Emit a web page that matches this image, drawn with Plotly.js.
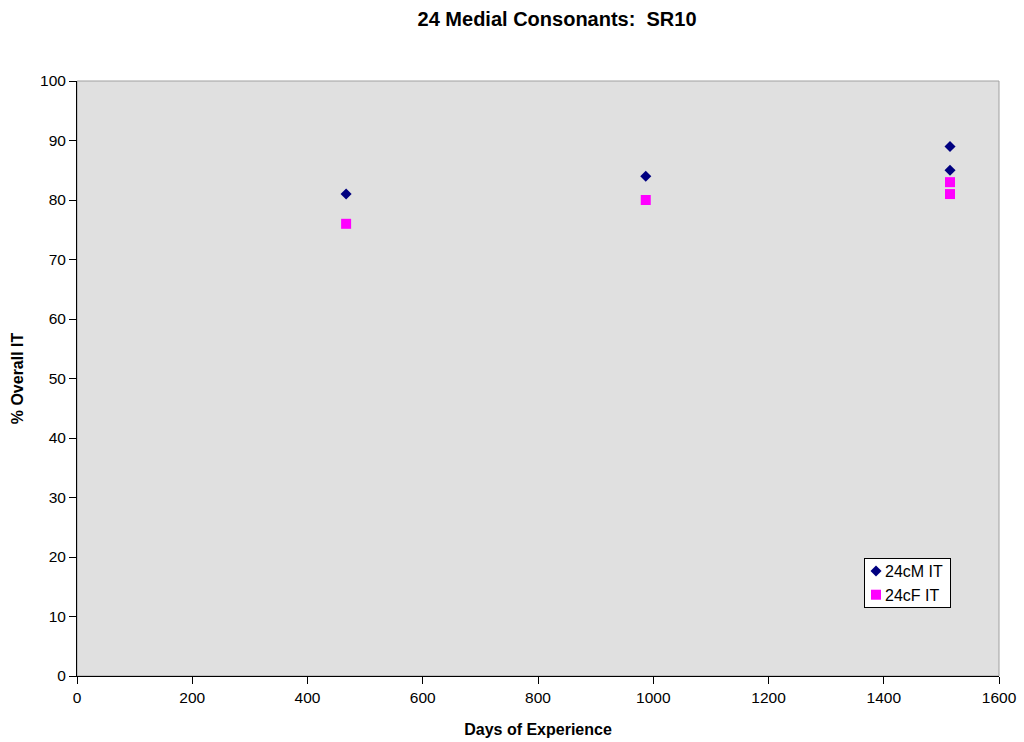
<!DOCTYPE html>
<html>
<head>
<meta charset="utf-8">
<script src="https://cdn.plot.ly/plotly-3.0.1.min.js"></script>
<style>html,body{margin:0;padding:0;background:#fff;}#chart{width:1024px;height:742px;}</style>
</head>
<body>
<div id="chart"></div>
<script>
// Overall IT scores for SR10 by days of experience
const maleDays = [467, 987, 1515, 1515];
const maleScores = [81, 84, 89, 85];
const femaleDays = [467, 987, 1515, 1515];
const femaleScores = [76, 80, 83, 81];
const xTicks = [0, 200, 400, 600, 800, 1000, 1200, 1400, 1600];
const yTicks = [0, 10, 20, 30, 40, 50, 60, 70, 80, 90, 100];

const font = 'Liberation Sans, Arial, sans-serif';

const traces = [
  {
    x: maleDays, y: maleScores, name: '24cM IT', type: 'scatter', mode: 'markers',
    marker: {symbol: 'diamond', size: 8.5, color: '#000080'}
  },
  {
    x: femaleDays, y: femaleScores, name: '24cF IT', type: 'scatter', mode: 'markers',
    marker: {symbol: 'square', size: 10, color: '#ff00ff'}
  }
];

const layout = {
  width: 1024, height: 742,
  margin: {l: 77, r: 25, t: 81, b: 66},
  paper_bgcolor: '#ffffff',
  plot_bgcolor: '#e0e0e0',
  font: {family: font, size: 15.5, color: '#000'},
  title: {text: '<b>24 Medial Consonants:&nbsp; SR10</b>', x: 0.544, xanchor: 'center', y: 0.975, yanchor: 'middle', font: {size: 20}},
  xaxis: {
    range: [0, 1600], tickvals: xTicks, ticktext: xTicks.map(String),
    showgrid: false, zeroline: false, showline: true, linecolor: '#000', linewidth: 1,
    ticks: 'outside', ticklen: 7, tickcolor: '#000',
    title: {text: '<b>Days of Experience</b>', font: {size: 16}, standoff: 19}
  },
  yaxis: {
    range: [0, 100], tickvals: yTicks, ticktext: yTicks.map(String),
    showgrid: false, zeroline: false, showline: true, linecolor: '#000', linewidth: 1,
    ticks: 'outside', ticklen: 7, tickcolor: '#000',
    title: {text: '<b>% Overall IT</b>', font: {size: 16}, standoff: 12}
  },
  showlegend: true,
  legend: {
    x: 0.8536, y: 0.1983, xanchor: 'left', yanchor: 'top',
    bgcolor: '#ffffff', bordercolor: '#000', borderwidth: 1,
    font: {size: 16}, itemwidth: 30
  },
  shapes: [{
    type: 'rect', xref: 'paper', yref: 'paper', x0: 0, x1: 1, y0: 0, y1: 1,
    line: {color: '#a0a0a0', width: 1}, fillcolor: 'rgba(0,0,0,0)', layer: 'below'
  }]
};

Plotly.newPlot('chart', traces, layout, {displayModeBar: false, staticPlot: true}).then(function (gd) {
  // Compact legend box: symbols near the left edge, text right after them
  const legend = gd.querySelector('.legend');
  if (!legend) return;
  legend.querySelectorAll('.legendtext').forEach(function (t) { t.setAttribute('x', 20); });
  legend.querySelectorAll('.legendpoints path').forEach(function (p) {
    p.setAttribute('transform', 'translate(11,0)');
  });
  const box = legend.querySelector('.scrollbox');
  if (box) box.setAttribute('transform', 'translate(0,-5)');
  const bg = legend.querySelector('rect.bg');
  if (bg) { bg.setAttribute('width', 86); bg.setAttribute('height', 49); }
});
</script>
</body>
</html>
